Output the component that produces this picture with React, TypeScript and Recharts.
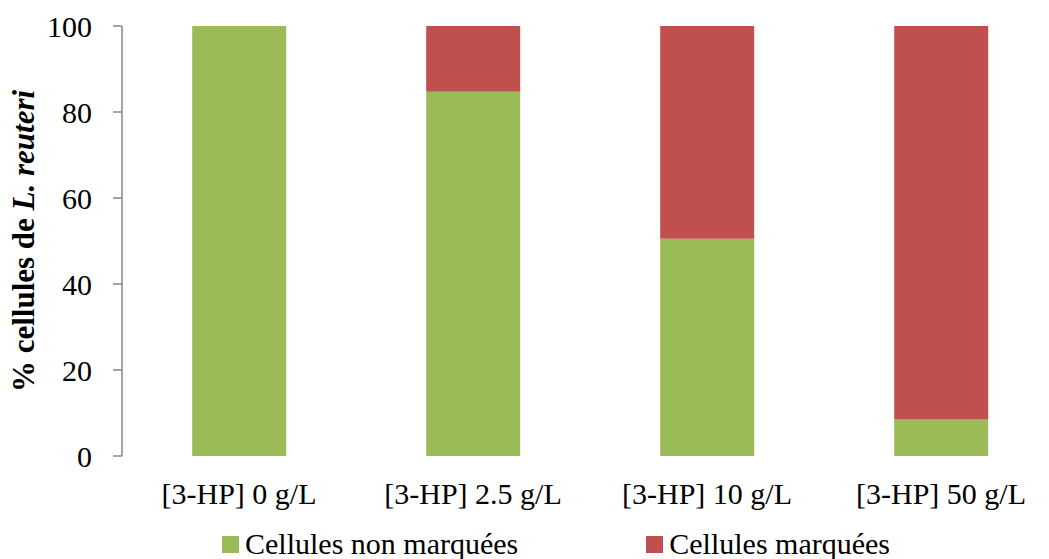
import { Bar, BarChart, XAxis, YAxis, Legend } from "recharts";

const categories = ["[3-HP] 0 g/L", "[3-HP] 2.5 g/L", "[3-HP] 10 g/L", "[3-HP] 50 g/L"];
const nonMarquees = [100, 84.7, 50.5, 8.5];
const marquees = [0, 15.3, 49.5, 91.5];
const yTicks = [0, 20, 40, 60, 80, 100];
const edgeTicks = [0, 1, 2, 3, 4];

const GREEN = "#9BBB59";
const RED = "#C0504D";
const AXIS = "#868686";
const FONT = "Liberation Serif";

const data = categories.map((name, i) => ({
  name,
  nonMarquees: nonMarquees[i],
  marquees: marquees[i],
}));

const legendItems = [
  { label: "Cellules non marquées", color: GREEN },
  { label: "Cellules marquées", color: RED },
];

function XTick(props: any) {
  const { x, y, payload } = props;
  return (
    <text x={x} y={y} dy="0.71em" textAnchor="middle" fontFamily={FONT} fontSize={30} fill="#000">
      {payload.value}
    </text>
  );
}

function YTick(props: any) {
  const { x, y, payload } = props;
  return (
    <text x={x} y={y} dy="0.355em" textAnchor="end" fontFamily={FONT} fontSize={30} fill="#000">
      {payload.value}
    </text>
  );
}

function YLabel(props: any) {
  const vb = props.viewBox || {};
  const cx = vb.x + 23;
  const cy = vb.y + vb.height / 2;
  return (
    <text
      transform={`translate(${cx},${cy}) rotate(-90)`}
      textAnchor="middle"
      dominantBaseline="central"
      fontFamily={FONT}
      fontSize={31}
      fontWeight="bold"
      fill="#000"
    >
      <tspan>% cellules de </tspan>
      <tspan fontStyle="italic">L. reuteri</tspan>
    </text>
  );
}

function LegendBox() {
  return (
    <div
      style={{
        height: 53,
        display: "flex",
        alignItems: "flex-end",
        paddingLeft: 222,
        gap: 128,
        fontFamily: FONT,
        fontSize: 30,
        color: "#000",
        lineHeight: "30px",
      }}
    >
      {legendItems.map((item) => (
        <div key={item.label} style={{ display: "flex", alignItems: "center", gap: 6 }}>
          <span style={{ display: "inline-block", width: 17, height: 17, background: item.color }} />
          <span>{item.label}</span>
        </div>
      ))}
    </div>
  );
}

export default function App() {
  return (
    <div
      style={{
        position: "absolute",
        left: 0,
        top: 0,
        width: 1049,
        height: 559,
        overflow: "hidden",
        background: "#fff",
        fontFamily: FONT,
      }}
    >
      <BarChart
        width={1060}
        height={559}
        data={data}
        margin={{ top: 26, right: 2, left: 0, bottom: 0 }}
        barCategoryGap="30%"
      >
        <XAxis
          xAxisId="edge"
          type="number"
          domain={[0, 4]}
          ticks={edgeTicks}
          allowDataOverflow
          height={0}
          tickSize={9}
          tickFormatter={() => ""}
          axisLine={{ stroke: AXIS, strokeWidth: 1.5 }}
          tickLine={{ stroke: AXIS, strokeWidth: 1.5 }}
        />
        <XAxis
          dataKey="name"
          height={50}
          axisLine={false}
          tickLine={false}
          tickSize={0}
          tickMargin={27}
          interval={0}
          tick={<XTick />}
        />
        <YAxis
          domain={[0, 100]}
          ticks={yTicks}
          width={122}
          tickSize={9}
          tickMargin={21}
          axisLine={{ stroke: AXIS, strokeWidth: 1.5 }}
          tickLine={{ stroke: AXIS, strokeWidth: 1.5 }}
          tick={<YTick />}
          label={<YLabel />}
        />
        <Legend
          verticalAlign="bottom"
          content={<LegendBox />}
          wrapperStyle={{ left: 0, width: 1060 }}
        />
        <Bar dataKey="nonMarquees" stackId="a" fill={GREEN} isAnimationActive={false} />
        <Bar dataKey="marquees" stackId="a" fill={RED} isAnimationActive={false} />
      </BarChart>
    </div>
  );
}
